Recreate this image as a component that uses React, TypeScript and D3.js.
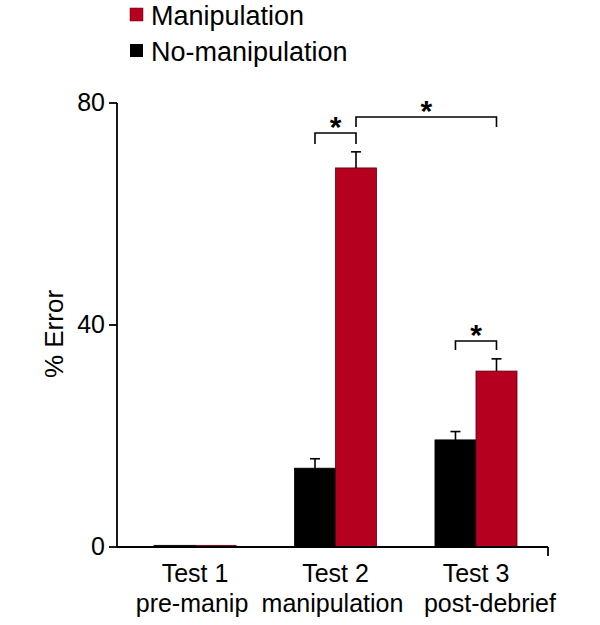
import React from "react";
import * as d3 from "d3";

const tests = ["Test 1", "Test 2", "Test 3"];
const subLabels = ["pre-manip", "manipulation", "post-debrief"];
const series = ["No-manipulation", "Manipulation"];
const noManip = [0.3, 14.2, 19.3];
const noManipErr = [0, 1.7, 1.5];
const manip = [0.3, 68.3, 31.7];
const manipErr = [0, 2.9, 2.2];
const yTicks = [0, 40, 80];

const RED = "#b5001f";
const FONT = "'Liberation Sans', Arial, Helvetica, sans-serif";

export default function App() {
  const W = 600, H = 625;
  const axisX = 117, axisRight = 548, y0 = 547, yTop = 103;
  const y = d3.scaleLinear().domain([0, 80]).range([y0, yTop]);
  const x = d3.scaleBand().domain(tests).range([154, 517]).paddingInner(0.416).paddingOuter(0);
  const sub = d3.scaleBand().domain(series).range([0, x.bandwidth()]);
  const bw = sub.bandwidth();
  const vals = [noManip, manip];
  const errs = [noManipErr, manipErr];
  const colors = ["#000", RED];
  const subDx = [-3, -3, 14];

  const cx = (ti: number, si: number) => (x(tests[ti]) as number) + (sub(series[si]) as number) + bw / 2;

  const bracket = (x1: number, x2: number, yt: number, drop: number, key: string) => (
    <g key={key}>
      <path d={`M${x1},${yt + drop}V${yt}H${x2}V${yt + drop}`} fill="none" stroke="#000" strokeWidth={1.6} />
      <text x={(x1 + x2) / 2} y={yt + 4} textAnchor="middle" fontSize={30} fontFamily={FONT} fontWeight="bold">*</text>
    </g>
  );

  return (
    <svg width={W} height={H} style={{ display: "block", position: "absolute", left: 0, top: 0 }}>
      <rect width={W} height={H} fill="#fff" />
      {/* legend */}
      <rect x={130} y={8} width={13} height={13} fill={RED} stroke="#600" strokeWidth={0.5} />
      <text x={151} y={25} fontSize={27} fontFamily={FONT}>Manipulation</text>
      <rect x={130} y={44} width={13} height={13} fill="#000" />
      <text x={151} y={61} fontSize={27} fontFamily={FONT}>No-manipulation</text>

      {/* bars */}
      {tests.map((t, ti) =>
        series.map((s, si) => {
          const v = vals[si][ti];
          const e = errs[si][ti];
          const bx = (x(t) as number) + (sub(s) as number);
          const c = cx(ti, si);
          return (
            <g key={t + s}>
              <rect x={bx} y={y(v)} width={bw} height={y0 - y(v)} fill={colors[si]} stroke={si === 1 ? "#5a0010" : "#000"} strokeWidth={0.8} />
              {e > 0 && (
                <g stroke="#000" strokeWidth={1.6}>
                  <line x1={c} x2={c} y1={y(v)} y2={y(v + e)} />
                  <line x1={c - 5} x2={c + 5} y1={y(v + e)} y2={y(v + e)} />
                </g>
              )}
            </g>
          );
        })
      )}

      {/* axes */}
      <line x1={axisX} x2={axisX} y1={yTop} y2={y0} stroke="#000" strokeWidth={1.8} />
      <line x1={axisX} x2={axisRight} y1={y0} y2={y0} stroke="#000" strokeWidth={1.8} />
      <line x1={axisRight} x2={axisRight} y1={y0} y2={y0 + 9} stroke="#000" strokeWidth={1.8} />
      {yTicks.map((t) => (
        <g key={t}>
          <line x1={axisX - 8} x2={axisX} y1={y(t)} y2={y(t)} stroke="#000" strokeWidth={1.8} />
          <text x={axisX - 12} y={y(t) + 8} textAnchor="end" fontSize={25} fontFamily={FONT}>{t}</text>
        </g>
      ))}
      <text transform={`translate(63,334) rotate(-90)`} textAnchor="middle" fontSize={26} fontFamily={FONT}>% Error</text>

      {tests.map((t, ti) => (
        <g key={t}>
          <text x={(x(t) as number) + x.bandwidth() / 2} y={582} textAnchor="middle" fontSize={25} fontFamily={FONT}>{t}</text>
          <text x={(x(t) as number) + x.bandwidth() / 2 + subDx[ti]} y={612} textAnchor="middle" fontSize={25} fontFamily={FONT}>{subLabels[ti]}</text>
        </g>
      ))}

      {/* significance brackets */}
      {bracket(cx(1, 0), cx(1, 1), 133, 11, "b1")}
      {bracket(cx(1, 1), cx(2, 1), 117, 10, "b2")}
      {bracket(cx(2, 0), cx(2, 1), 341, 9, "b3")}
    </svg>
  );
}
